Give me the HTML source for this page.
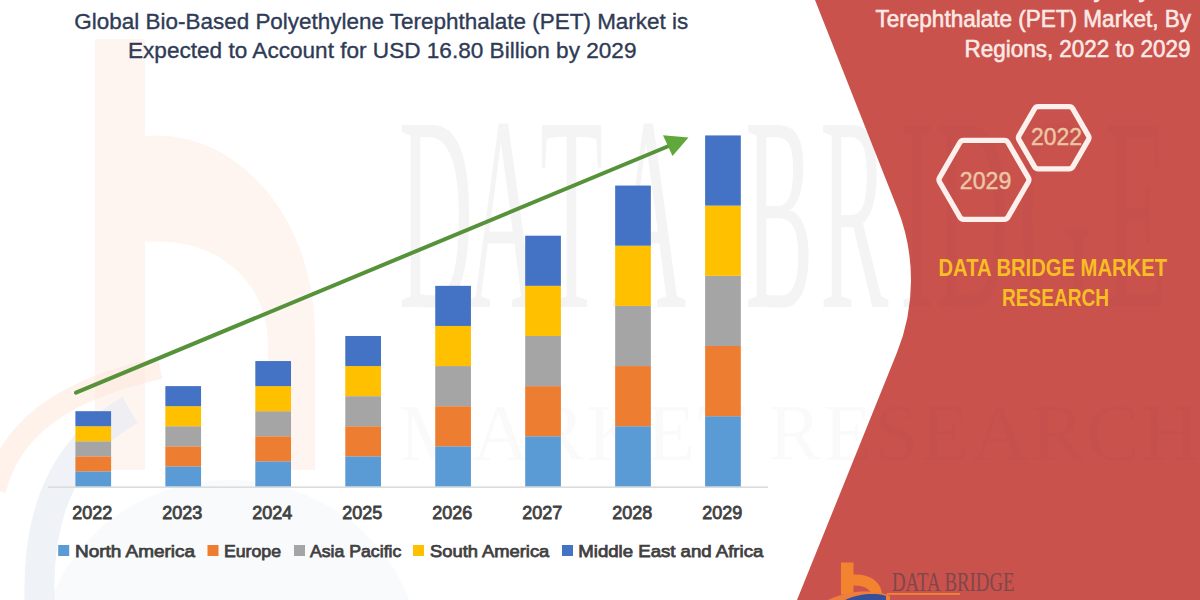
<!DOCTYPE html>
<html><head><meta charset="utf-8">
<style>
html,body{margin:0;padding:0;background:#fff;}
body{width:1200px;height:600px;overflow:hidden;position:relative;font-family:"Liberation Sans",sans-serif;}
svg{position:absolute;left:0;top:0;display:block;}
</style></head>
<body>
<svg width="1200" height="600" viewBox="0 0 1200 600">
  <!-- background -->
  <rect x="0" y="0" width="1200" height="600" fill="#ffffff"/>

  <!-- watermark b (faint) -->
  <g id="wm">
    <path d="M95,39 L145,39 L145,136 C235,128 315,215 315,335 L315,470 L268,470 L268,345 C268,280 215,236 145,242 L145,470 L95,470 Z" fill="#fdeee8" opacity="0.6"/>
    <path d="M-5,490 C10,430 60,390 160,368" fill="none" stroke="#fde6d8" stroke-width="22" opacity="0.5"/>
    <path d="M40,610 C35,520 60,450 130,410" fill="none" stroke="#e8edf4" stroke-width="30" opacity="0.7"/>
    <ellipse cx="230" cy="660" rx="190" ry="180" fill="#eef2f7" opacity="0.4"/>
  </g>

  <!-- watermark text -->
  <g font-family="Liberation Serif, serif" fill="#000" fill-opacity="0.045">
    <text transform="scale(0.37,1)" x="1078.4 1262.2 1459.5 1654.1 2013.5 2216.2 2432.4 2527.0 2751.4 2986.5" y="307" font-size="278">DATABRIDGE</text>
    <text x="399" y="460" font-size="80" fill-opacity="0.018" textLength="800" lengthAdjust="spacing">MARKET RESEARCH</text>
  </g>
  <!-- red panel -->
  <path id="red" d="M815,0 L897.3,208.3 A195,195 0 0,1 896.8,353.1 L797,600 L1200,600 L1200,0 Z" fill="#ca524d"/>
  <clipPath id="redclip"><path d="M815,0 L897.3,208.3 A195,195 0 0,1 896.8,353.1 L797,600 L1200,600 L1200,0 Z"/></clipPath>
  <!-- watermark on red -->
  <g clip-path="url(#redclip)" font-family="Liberation Serif, serif" fill="#000" fill-opacity="0.02">
    <text transform="scale(0.37,1)" x="1078.4 1262.2 1459.5 1654.1 2013.5 2216.2 2432.4 2527.0 2751.4 2986.5" y="307" font-size="278">DATABRIDGE</text>
    <text x="399" y="460" font-size="80" fill-opacity="0.018" textLength="800" lengthAdjust="spacing">MARKET RESEARCH</text>
  </g>



  <!-- title -->
  <g font-family="Liberation Sans, sans-serif" font-size="22.5" fill="#2f3b56" stroke="#2f3b56" stroke-width="0.35">
    <text x="74.3" y="28.7" textLength="614" lengthAdjust="spacingAndGlyphs">Global Bio-Based Polyethylene Terephthalate (PET) Market is</text>
    <text x="128" y="58.3" textLength="508.5" lengthAdjust="spacingAndGlyphs">Expected to Account for USD 16.80 Billion by 2029</text>
  </g>

  <!-- axis -->
  <rect x="48" y="486.4" width="720" height="1.6" fill="#dcdcdc"/>

  <!-- bars -->
  <g id="bars">
    <rect x="75.40" y="471.36" width="35.7" height="15.04" fill="#5b9bd5"/>
    <rect x="75.40" y="456.32" width="35.7" height="15.04" fill="#ed7d31"/>
    <rect x="75.40" y="441.27" width="35.7" height="15.04" fill="#a5a5a5"/>
    <rect x="75.40" y="426.23" width="35.7" height="15.04" fill="#ffc000"/>
    <rect x="75.40" y="411.19" width="35.7" height="15.04" fill="#4472c4"/>
    <rect x="165.36" y="466.34" width="35.7" height="20.06" fill="#5b9bd5"/>
    <rect x="165.36" y="446.29" width="35.7" height="20.06" fill="#ed7d31"/>
    <rect x="165.36" y="426.23" width="35.7" height="20.06" fill="#a5a5a5"/>
    <rect x="165.36" y="406.18" width="35.7" height="20.06" fill="#ffc000"/>
    <rect x="165.36" y="386.12" width="35.7" height="20.06" fill="#4472c4"/>
    <rect x="255.32" y="461.33" width="35.7" height="25.07" fill="#5b9bd5"/>
    <rect x="255.32" y="436.26" width="35.7" height="25.07" fill="#ed7d31"/>
    <rect x="255.32" y="411.19" width="35.7" height="25.07" fill="#a5a5a5"/>
    <rect x="255.32" y="386.12" width="35.7" height="25.07" fill="#ffc000"/>
    <rect x="255.32" y="361.05" width="35.7" height="25.07" fill="#4472c4"/>
    <rect x="345.28" y="456.32" width="35.7" height="30.08" fill="#5b9bd5"/>
    <rect x="345.28" y="426.23" width="35.7" height="30.08" fill="#ed7d31"/>
    <rect x="345.28" y="396.15" width="35.7" height="30.08" fill="#a5a5a5"/>
    <rect x="345.28" y="366.06" width="35.7" height="30.08" fill="#ffc000"/>
    <rect x="345.28" y="335.98" width="35.7" height="30.08" fill="#4472c4"/>
    <rect x="435.24" y="446.29" width="35.7" height="40.11" fill="#5b9bd5"/>
    <rect x="435.24" y="406.18" width="35.7" height="40.11" fill="#ed7d31"/>
    <rect x="435.24" y="366.06" width="35.7" height="40.11" fill="#a5a5a5"/>
    <rect x="435.24" y="325.95" width="35.7" height="40.11" fill="#ffc000"/>
    <rect x="435.24" y="285.84" width="35.7" height="40.11" fill="#4472c4"/>
    <rect x="525.20" y="436.26" width="35.7" height="50.14" fill="#5b9bd5"/>
    <rect x="525.20" y="386.12" width="35.7" height="50.14" fill="#ed7d31"/>
    <rect x="525.20" y="335.98" width="35.7" height="50.14" fill="#a5a5a5"/>
    <rect x="525.20" y="285.84" width="35.7" height="50.14" fill="#ffc000"/>
    <rect x="525.20" y="235.70" width="35.7" height="50.14" fill="#4472c4"/>
    <rect x="615.16" y="426.23" width="35.7" height="60.17" fill="#5b9bd5"/>
    <rect x="615.16" y="366.06" width="35.7" height="60.17" fill="#ed7d31"/>
    <rect x="615.16" y="305.90" width="35.7" height="60.17" fill="#a5a5a5"/>
    <rect x="615.16" y="245.73" width="35.7" height="60.17" fill="#ffc000"/>
    <rect x="615.16" y="185.56" width="35.7" height="60.17" fill="#4472c4"/>
    <rect x="705.12" y="416.20" width="35.7" height="70.20" fill="#5b9bd5"/>
    <rect x="705.12" y="346.01" width="35.7" height="70.20" fill="#ed7d31"/>
    <rect x="705.12" y="275.81" width="35.7" height="70.20" fill="#a5a5a5"/>
    <rect x="705.12" y="205.62" width="35.7" height="70.20" fill="#ffc000"/>
    <rect x="705.12" y="135.42" width="35.7" height="70.20" fill="#4472c4"/>
  </g>

  <!-- arrow -->
  <line x1="76" y1="392.7" x2="670" y2="145.5" stroke="#56923a" stroke-width="4" stroke-linecap="round"/>
  <path d="M688.5,137.5 L663,135.2 L672.5,156 Z" fill="#60a73c"/>

  <!-- years -->
  <g font-family="Liberation Sans, sans-serif" font-size="18.2" fill="#404040" stroke="#404040" stroke-width="0.8">
    <text x="72.30" y="518.5" textLength="40" lengthAdjust="spacingAndGlyphs">2022</text>
    <text x="162.31" y="518.5" textLength="40" lengthAdjust="spacingAndGlyphs">2023</text>
    <text x="252.32" y="518.5" textLength="40" lengthAdjust="spacingAndGlyphs">2024</text>
    <text x="342.33" y="518.5" textLength="40" lengthAdjust="spacingAndGlyphs">2025</text>
    <text x="432.34" y="518.5" textLength="40" lengthAdjust="spacingAndGlyphs">2026</text>
    <text x="522.35" y="518.5" textLength="40" lengthAdjust="spacingAndGlyphs">2027</text>
    <text x="612.36" y="518.5" textLength="40" lengthAdjust="spacingAndGlyphs">2028</text>
    <text x="702.37" y="518.5" textLength="40" lengthAdjust="spacingAndGlyphs">2029</text>
  </g>

  <!-- legend -->
  <g font-family="Liberation Sans, sans-serif" font-size="17" fill="#404040" stroke="#404040" stroke-width="0.75">
    <rect x="58.2" y="545" width="11" height="11" fill="#5b9bd5" stroke="none"/>
    <text x="75" y="556.5" textLength="120" lengthAdjust="spacingAndGlyphs">North America</text>
    <rect x="207.5" y="545" width="11" height="11" fill="#ed7d31" stroke="none"/>
    <text x="224" y="556.5" textLength="57" lengthAdjust="spacingAndGlyphs">Europe</text>
    <rect x="294" y="545" width="11" height="11" fill="#a5a5a5" stroke="none"/>
    <text x="310" y="556.5" textLength="91.3" lengthAdjust="spacingAndGlyphs">Asia Pacific</text>
    <rect x="413" y="545" width="11" height="11" fill="#ffc000" stroke="none"/>
    <text x="430" y="556.5" textLength="119.3" lengthAdjust="spacingAndGlyphs">South America</text>
    <rect x="562" y="545" width="11" height="11" fill="#4472c4" stroke="none"/>
    <text x="578.3" y="556.5" textLength="185" lengthAdjust="spacingAndGlyphs">Middle East and Africa</text>
  </g>

  <!-- right texts -->
  <g font-family="Liberation Sans, sans-serif" font-size="23.8" fill="#fbe9e5" stroke="#fbe9e5" stroke-width="0.6">
    <text x="1195.5" y="-3" text-anchor="end">Global Bio-Based Polyethylene</text>
    <text x="875.5" y="27" textLength="315.5" lengthAdjust="spacingAndGlyphs">Terephthalate (PET) Market, By</text>
    <text x="964.5" y="56.7" textLength="226" lengthAdjust="spacingAndGlyphs">Regions, 2022 to 2029</text>
  </g>

  <!-- hexagons -->
  <g fill="none" stroke="#fcf0ec" stroke-width="5.3">
    <path d="M1088.35,139.92 L1072.90,166.68 Q1071.65,168.84 1069.15,168.84 L1038.25,168.84 Q1035.75,168.84 1034.50,166.68 L1019.05,139.92 Q1017.80,137.75 1019.05,135.58 L1034.50,108.82 Q1035.75,106.66 1038.25,106.66 L1069.15,106.66 Q1071.65,106.66 1072.90,108.82 L1088.35,135.58 Q1089.60,137.75 1088.35,139.92 Z"/>
    <path d="M1028.30,182.02 L1008.00,217.18 Q1006.75,219.34 1004.25,219.34 L963.65,219.34 Q961.15,219.34 959.90,217.18 L939.60,182.02 Q938.35,179.85 939.60,177.68 L959.90,142.52 Q961.15,140.36 963.65,140.36 L1004.25,140.36 Q1006.75,140.36 1008.00,142.52 L1028.30,177.68 Q1029.55,179.85 1028.30,182.02 Z"/>
  </g>
  <g font-family="Liberation Sans, sans-serif" font-size="23.4" fill="#ecc6a6" stroke="#ecc6a6" stroke-width="0.45">
    <text x="1031" y="145.3" textLength="51" lengthAdjust="spacingAndGlyphs">2022</text>
    <text x="959.8" y="189" textLength="51.5" lengthAdjust="spacingAndGlyphs">2029</text>
  </g>

  <!-- DBMR -->
  <g font-family="Liberation Sans, sans-serif" font-weight="bold" font-size="23.2" fill="#f8bf24">
    <text x="938.5" y="275.5" textLength="228.5" lengthAdjust="spacingAndGlyphs">DATA BRIDGE MARKET</text>
    <text x="1002" y="305.5" textLength="107" lengthAdjust="spacingAndGlyphs">RESEARCH</text>
  </g>

  <!-- bottom logo -->
  <g>
    <rect x="841" y="562.5" width="12.5" height="32" fill="#f3832e"/>
    <path d="M853,574.5 C868,573.5 880,580 882,593 L871,593 C869,588 862,585 853,585.5 Z" fill="#f3832e"/>
    <path d="M828,600 C840,594 852,591.5 866,591.5 C876,591.5 884,593 890,596 L890,600 Z" fill="#ef7d3c"/>
    <path d="M845,600 C855,595 866,593.5 876,594 C880,594.2 884,595 886,596 L886,600 Z" fill="#34509a"/>
    <text x="892" y="591" font-family="Liberation Serif, serif" font-size="27.5" fill="#7e4749" textLength="122.5" lengthAdjust="spacingAndGlyphs">DATA BRIDGE</text>
    <rect x="887" y="593" width="73" height="1.8" fill="#f0853a"/>
  </g>
</svg>
<script></script>
</body></html>
